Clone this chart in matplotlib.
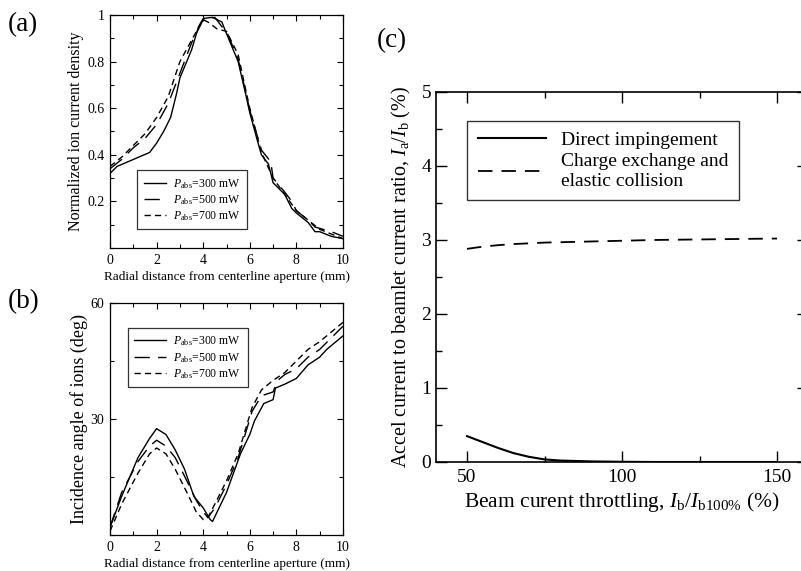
import matplotlib
matplotlib.use("Agg")
import matplotlib.pyplot as plt
from matplotlib.ticker import MultipleLocator

plt.rcParams['font.family'] = ['Liberation Serif', 'DejaVu Serif']
plt.rcParams['mathtext.fontset'] = 'custom'
plt.rcParams['mathtext.rm'] = 'Liberation Serif'
plt.rcParams['mathtext.it'] = 'Liberation Serif:italic'

# ---- Panel (a) data: normalized ion current density ----
xa_300 = [0, 0.3, 1.0, 1.7, 2.0, 2.3, 2.6, 2.85, 3.0, 3.5, 3.8, 4.0, 4.4, 4.8, 5.0, 5.5, 5.8, 6.0, 6.3, 6.5, 6.8, 7.0, 7.5, 7.8, 8.0, 8.5, 8.8, 9.0, 9.5, 10.0]
ya_300 = [0.32, 0.35, 0.38, 0.41, 0.45, 0.50, 0.56, 0.66, 0.73, 0.85, 0.95, 0.985, 0.99, 0.97, 0.92, 0.80, 0.67, 0.58, 0.47, 0.40, 0.36, 0.28, 0.23, 0.17, 0.15, 0.11, 0.07, 0.07, 0.05, 0.04]
xa_500 = [0, 0.5, 1.0, 1.5, 2.0, 2.5, 3.0, 3.5, 4.0, 4.2, 4.5, 4.8, 5.0, 5.5, 5.8, 6.0, 6.5, 6.9, 7.0, 7.5, 7.8, 8.0, 8.5, 8.8, 9.5, 10.0]
ya_500 = [0.34, 0.38, 0.43, 0.47, 0.53, 0.62, 0.75, 0.88, 0.98, 0.98, 0.99, 0.95, 0.93, 0.81, 0.68, 0.59, 0.42, 0.37, 0.30, 0.24, 0.20, 0.16, 0.12, 0.09, 0.07, 0.05]
xa_700 = [0, 0.5, 1.0, 1.5, 2.0, 2.5, 3.0, 3.6, 4.0, 4.2, 4.6, 5.0, 5.5, 5.8, 6.0, 6.5, 7.0, 7.5, 8.0, 8.5, 9.0, 9.5, 10.0]
ya_700 = [0.35, 0.39, 0.44, 0.49, 0.56, 0.65, 0.80, 0.91, 0.98, 0.97, 0.94, 0.93, 0.83, 0.69, 0.60, 0.41, 0.30, 0.23, 0.16, 0.12, 0.08, 0.06, 0.04]

# ---- Panel (b) data: incidence angle of ions ----
xb_300 = [0, 0.5, 1.2, 1.7, 2.0, 2.4, 2.8, 3.2, 3.6, 4.0, 4.3, 4.4, 4.6, 5.0, 5.3, 5.6, 6.0, 6.2, 6.6, 7.0, 7.1, 7.5, 8.0, 8.5, 9.0, 9.3, 9.7, 10.0]
yb_300 = [2, 10, 20, 25, 27.5, 26, 22, 17, 10, 7, 4, 3.5, 6, 11, 16, 21, 26, 29.5, 34, 35, 38, 39, 40.5, 44, 46, 48, 50, 51.5]
xb_500 = [0, 0.5, 1.2, 1.7, 2.0, 2.4, 2.8, 3.3, 3.7, 4.0, 4.2, 4.5, 5.0, 5.5, 5.8, 6.1, 6.5, 7.0, 7.2, 7.5, 8.0, 8.5, 9.0, 9.5, 10.0]
yb_500 = [2, 11, 19, 23, 24.5, 23, 20, 14, 9, 6, 4.5, 7, 13, 20, 26, 32, 36, 37, 40, 41.5, 43, 46, 48, 51, 54]
xb_700 = [0, 0.5, 1.2, 1.7, 2.0, 2.4, 2.8, 3.3, 3.7, 4.0, 4.2, 4.5, 5.0, 5.5, 5.8, 6.1, 6.5, 7.0, 7.5, 8.0, 8.5, 9.0, 9.5, 10.0]
yb_700 = [1, 8, 16, 21, 22.5, 21, 17, 11, 6, 4, 4.5, 8, 14, 21, 27, 33, 37.5, 40, 42, 45, 48, 50, 52.5, 55]

# ---- Panel (c) data ----
xc = [50, 55, 60, 65, 70, 75, 80, 90, 100, 110, 120, 130, 140, 150]
yc_direct = [0.35, 0.27, 0.19, 0.12, 0.07, 0.035, 0.02, 0.008, 0.003, 0.0, 0.0, 0.0, 0.0, 0.0]
yc_cex = [2.88, 2.91, 2.93, 2.945, 2.955, 2.965, 2.97, 2.98, 2.99, 3.0, 3.005, 3.01, 3.015, 3.02]

labels_p = [r'$P_{\rm abs}$=300 mW', r'$P_{\rm abs}$=500 mW', r'$P_{\rm abs}$=700 mW']
labels_c = ['Direct impingement', 'Charge exchange and\nelastic collision']

W, H = 801, 571
fig = plt.figure(figsize=(W/100, H/100), dpi=100)

def box(l, t, r, b):
    return [l/W, 1-b/H, (r-l)/W, (b-t)/H]

styles = [dict(ls='-'), dict(ls=(0, (11, 6))), dict(ls=(0, (4.5, 3)))]

def style_small(ax):
    ax.tick_params(which='both', direction='in', top=True, right=True, labelsize=10, pad=4)
    ax.tick_params(which='major', length=4.5, width=0.8)
    ax.tick_params(which='minor', length=3, width=0.8)
    for s in ax.spines.values():
        s.set_linewidth(0.9)

# (a)
axa = fig.add_axes(box(110, 15, 343, 248))
for xs, ys, st, lab in zip([xa_300, xa_500, xa_700], [ya_300, ya_500, ya_700], styles, labels_p):
    axa.plot(xs, ys, color='black', lw=1.0, label=lab, **st)
axa.set_xlim(0, 10)
axa.set_ylim(0, 1)
axa.xaxis.set_major_locator(MultipleLocator(2))
axa.xaxis.set_minor_locator(MultipleLocator(1))
axa.set_yticks([0.2, 0.4, 0.6, 0.8, 1.0])
axa.set_yticklabels(['0.2', '0.4', '0.6', '0.8', '1'])
axa.yaxis.set_minor_locator(MultipleLocator(0.1))
style_small(axa)
axa.set_xlabel('Radial distance from centerline aperture (mm)', fontsize=9.5, labelpad=3)
axa.set_ylabel('Normalized ion current density', fontsize=11.5, labelpad=2)
la = axa.legend(loc='lower left', bbox_to_anchor=(0.116, 0.08), borderaxespad=0, fontsize=8.5,
                frameon=True, fancybox=False, edgecolor='black', handlelength=1.9,
                borderpad=0.55, labelspacing=0.2, handletextpad=0.6)
la.get_frame().set_linewidth(0.9)

# (b)
axb = fig.add_axes(box(110, 303, 343, 535))
for xs, ys, st, lab in zip([xb_300, xb_500, xb_700], [yb_300, yb_500, yb_700], styles, labels_p):
    axb.plot(xs, ys, color='black', lw=1.0, label=lab, **st)
axb.set_xlim(0, 10)
axb.set_ylim(0, 60)
axb.xaxis.set_major_locator(MultipleLocator(2))
axb.xaxis.set_minor_locator(MultipleLocator(1))
axb.set_yticks([30, 60])
axb.yaxis.set_minor_locator(MultipleLocator(15))
style_small(axb)
axb.set_xlabel('Radial distance from centerline aperture (mm)', fontsize=9.5, labelpad=3)
axb.set_ylabel('Incidence angle of ions (deg)', fontsize=13, labelpad=2)
lb = axb.legend(loc='upper left', bbox_to_anchor=(0.077, 0.892), borderaxespad=0, fontsize=8.5,
                frameon=True, fancybox=False, edgecolor='black', handlelength=2.7,
                borderpad=0.55, labelspacing=0.2, handletextpad=0.6)
lb.get_frame().set_linewidth(0.9)

# (c)
axc = fig.add_axes(box(436, 92, 808, 462))
axc.plot(xc, yc_direct, color='black', lw=1.5, ls='-', label=labels_c[0])
axc.plot(xc, yc_cex, color='black', lw=1.3, ls=(0, (8, 5)), label=labels_c[1])
axc.set_xlim(40, 160)
axc.set_ylim(0, 5)
axc.set_xticks([50, 100, 150])
axc.xaxis.set_minor_locator(MultipleLocator(25))
axc.yaxis.set_major_locator(MultipleLocator(1))
axc.yaxis.set_minor_locator(MultipleLocator(0.5))
axc.tick_params(which='both', direction='in', top=True, right=True, labelsize=14)
axc.tick_params(which='major', length=8, width=1.0)
axc.tick_params(which='minor', length=4.5, width=1.0)
axc.tick_params(axis='x', which='both', pad=5)
for s in axc.spines.values():
    s.set_linewidth(1.2)
axc.set_xlabel(r'Beam curent throttling, $I_{\rm b}/I_{\rm b100\%}$ (%)', fontsize=15.5, labelpad=3)
axc.set_ylabel(r'Accel current to beamlet current ratio, $I_{\rm a}/I_{\rm b}$ (%)', fontsize=14.5, labelpad=6)
leg = axc.legend(loc='upper left', bbox_to_anchor=(0.083, 0.922), borderaxespad=0, fontsize=14,
                 frameon=True, fancybox=False, edgecolor='black', handlelength=3.5,
                 borderpad=0.55, labelspacing=0.2, handletextpad=0.8)
leg.get_frame().set_linewidth(1.0)

fig.text(8/W, 1-25/H, '(a)', fontsize=19.5, va='center', ha='left')
fig.text(8/W, 1-302/H, '(b)', fontsize=19.5, va='center', ha='left')
fig.text(377/W, 1-41/H, '(c)', fontsize=19.5, va='center', ha='left')

fig.savefig('out.png', dpi=100)
